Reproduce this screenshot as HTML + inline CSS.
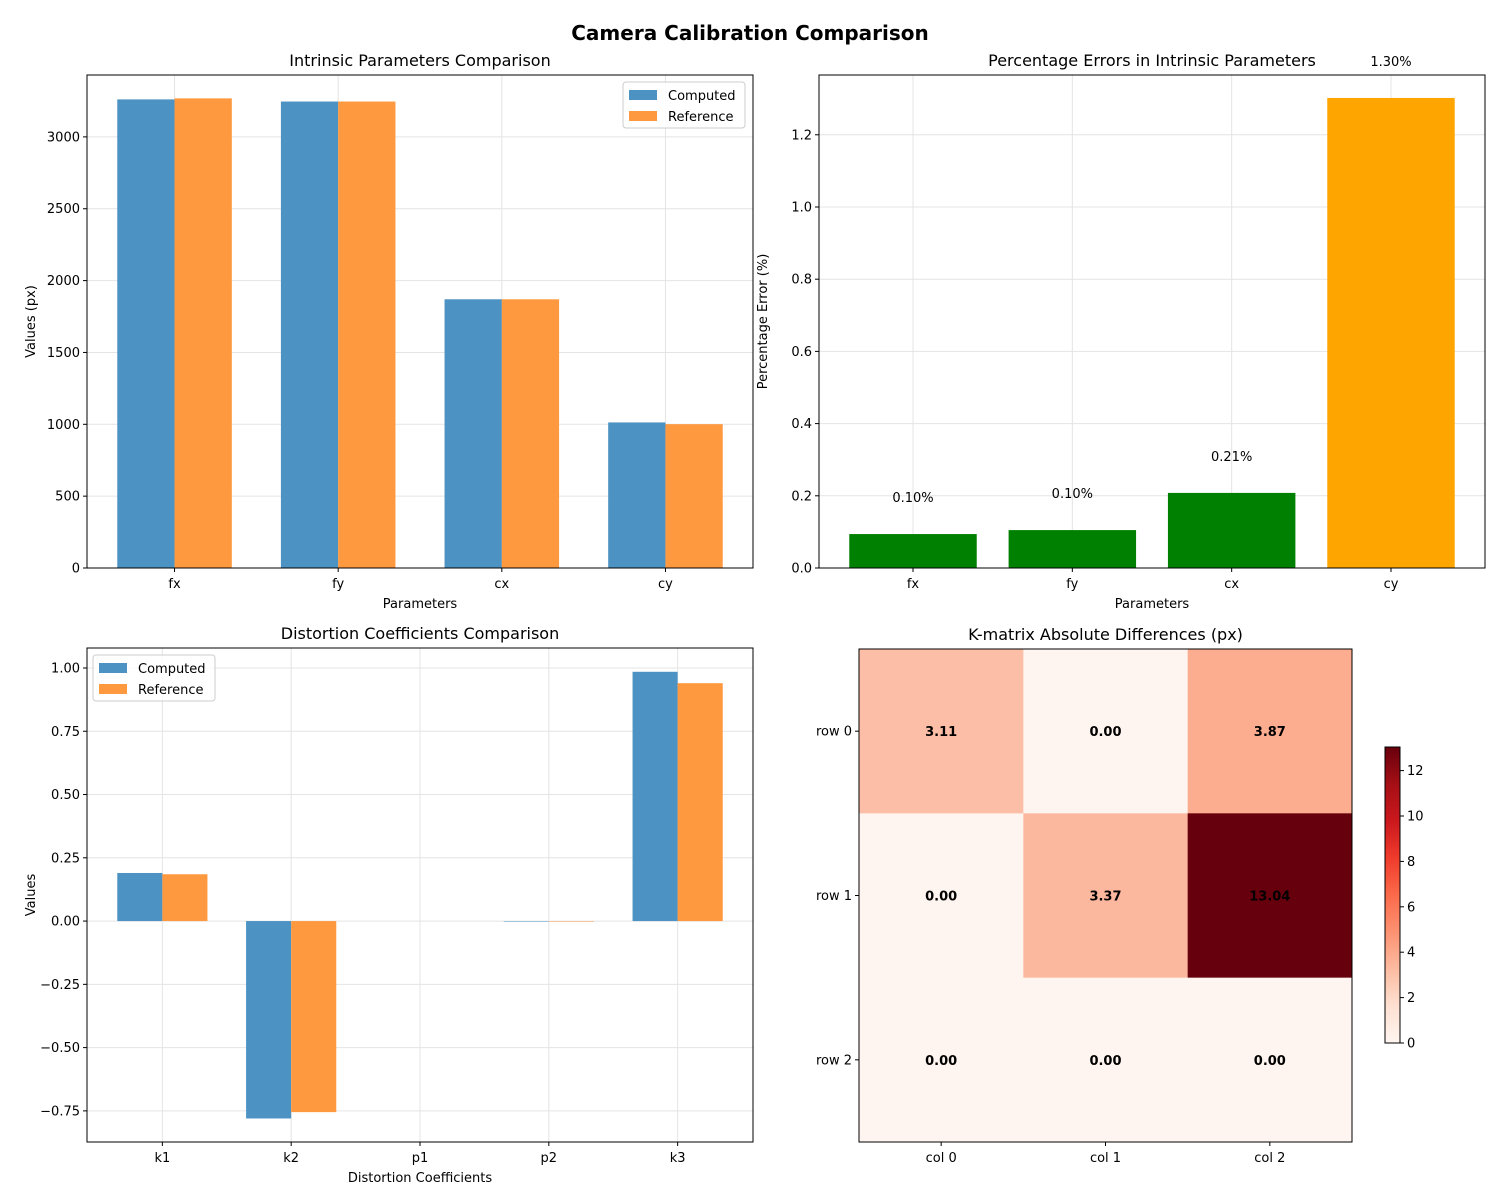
<!DOCTYPE html>
<html><head><meta charset="utf-8">
<style>
body{margin:0;background:#fff;}
svg{display:block;font-family:"DejaVu Sans","Liberation Sans",sans-serif;}
</style></head>
<body>
<svg id="fig" width="1500" height="1200" viewBox="0 0 1500 1200" xmlns="http://www.w3.org/2000/svg">
<rect width="1500" height="1200" fill="#fff"/>
<text x="750" y="40" text-anchor="middle" font-size="20" font-weight="bold">Camera Calibration Comparison</text>
</svg>
<script>
// ---- data ----
const intrCats = ["fx","fy","cx","cy"];
const intrComputed = [3261, 3246, 1870, 1013];
const intrReference = [3268, 3246, 1870, 1001];
const intrTicks = [0,500,1000,1500,2000,2500,3000];
const errCats = ["fx","fy","cx","cy"];
const errValues = [0.094, 0.105, 0.208, 1.302];
const errLabels = ["0.10%","0.10%","0.21%","1.30%"];
const errColors = ["#008000","#008000","#008000","#ffa500"];
const errTicks = [0,0.2,0.4,0.6,0.8,1.0,1.2];
const distCats = ["k1","k2","p1","p2","k3"];
const distComputed = [0.19, -0.78, 0.0, -0.001, 0.985];
const distReference = [0.185, -0.755, 0.0, -0.001, 0.94];
const distTicks = [-0.75,-0.5,-0.25,0,0.25,0.5,0.75,1.0];
const kRows = ["row 0","row 1","row 2"];
const kCols = ["col 0","col 1","col 2"];
const kDiff = [[3.11,0.00,3.87],[0.00,3.37,13.04],[0.00,0.00,0.00]];
const cbTicks = [0,2,4,6,8,10,12];

const NS="http://www.w3.org/2000/svg";
const svg=document.getElementById('fig');
function el(tag,attrs,parent,text){const e=document.createElementNS(NS,tag);for(const k in attrs)e.setAttribute(k,attrs[k]);if(text!==undefined)e.textContent=text;(parent||svg).appendChild(e);return e;}

function makeAxes(name,L,R,T,B,ymin,ymax,nCats,xpad){
  const g=el('g',{});
  
  
  const y=v=>B-(v-ymin)/(ymax-ymin)*(B-T);
  const x=i=>L+(i-xpad.min)/(xpad.max-xpad.min)*(R-L);
  return {g,x,y,L,R,T,B};
}
function grid(ax,cats,ticks,fmt){
  cats.forEach((c,i)=>{const l=el('line',{x1:ax.x(i),x2:ax.x(i),y1:ax.T,y2:ax.B,stroke:'#e4e4e4','stroke-width':1},ax.g);});
  ticks.forEach(t=>{const l=el('line',{x1:ax.L,x2:ax.R,y1:ax.y(t),y2:ax.y(t),stroke:'#e4e4e4','stroke-width':1},ax.g);});
}
function frame(ax,cats,ticks,fmt,title,xl,yl){
  const r=el('rect',{x:ax.L,y:ax.T,width:ax.R-ax.L,height:ax.B-ax.T,fill:'none',stroke:'#000','stroke-width':1},ax.g);
  
  cats.forEach((c,i)=>{el('line',{x1:ax.x(i),x2:ax.x(i),y1:ax.B,y2:ax.B+4,stroke:'#000'},ax.g);
    const t=el('text',{x:ax.x(i),y:ax.B+20,'text-anchor':'middle','font-size':13},ax.g,c);});
  ticks.forEach(v=>{el('line',{x1:ax.L-4,x2:ax.L,y1:ax.y(v),y2:ax.y(v),stroke:'#000'},ax.g);
    const t=el('text',{x:ax.L-7,y:ax.y(v)+4.5,'text-anchor':'end','font-size':13},ax.g,fmt(v));});
  const tt=el('text',{x:(ax.L+ax.R)/2,y:ax.T-9,'text-anchor':'middle','font-size':16},ax.g,title);
  const xt=el('text',{x:(ax.L+ax.R)/2,y:ax.B+40,'text-anchor':'middle','font-size':13},ax.g,xl);
  const cy=(ax.T+ax.B)/2, cx=ax.L-(fmt(ticks[ticks.length-1]).length>4?58:52);
  const yt=el('text',{x:cx,y:cy,'text-anchor':'middle','font-size':13,transform:`rotate(-90 ${cx} ${cy})`},ax.g,yl);
}
function legend(ax,x0,y0){
  const lg=el('g',{},ax.g);
  el('rect',{x:x0,y:y0,width:122,height:46,rx:3,fill:'#fff',stroke:'#ccc','fill-opacity':0.85},lg);
  [["Computed","#4c92c3"],["Reference","#ff993f"]].forEach((s,i)=>{
    const e=el('g',{},lg);
    el('rect',{x:x0+6,y:y0+8+i*21,width:28,height:10,fill:s[1]},e);
    el('text',{x:x0+45,y:y0+18+i*21,'font-size':13},e,s[0]);
  });
}
function pairBars(ax,comp,ref,w){
  comp.forEach((v,i)=>{
    const y0=ax.y(0),y1=ax.y(v);
    const h=v===0?0:Math.max(Math.abs(y1-y0),0.5);
    const b=el('rect',{x:ax.x(i)-w,y:Math.min(y0,y1),width:w,height:h,fill:'#4c92c3'},ax.g);
    
  });
  ref.forEach((v,i)=>{
    const y0=ax.y(0),y1=ax.y(v);
    const h=v===0?0:Math.max(Math.abs(y1-y0),0.5);
    const b=el('rect',{x:ax.x(i),y:Math.min(y0,y1),width:w,height:h,fill:'#ff993f'},ax.g);
    
  });
}

// Panel 1
{const ax=makeAxes('intrinsic-panel',87,753,75,568,0,3430.7,4,{min:-0.535,max:3.535});
 grid(ax,intrCats,intrTicks);
 const w=(ax.x(1)-ax.x(0))*0.35;
 pairBars(ax,intrComputed,intrReference,w);
 frame(ax,intrCats,intrTicks,v=>String(v),'Intrinsic Parameters Comparison','Parameters','Values (px)');
 legend(ax,623,82);}

// Panel 2
{const ax=makeAxes('percentage-error-panel',819,1485,75,568,0,1.3656,4,{min:-0.59,max:3.59});
 grid(ax,errCats,errTicks);
 const w=(ax.x(1)-ax.x(0))*0.8;
 errValues.forEach((v,i)=>{
   const b=el('rect',{x:ax.x(i)-w/2,y:ax.y(v),width:w,height:ax.y(0)-ax.y(v),fill:errColors[i]},ax.g);
   
   const t=el('text',{x:ax.x(i),y:ax.y(v+0.1)+4,'text-anchor':'middle','font-size':13},ax.g,errLabels[i]);
   
 });
 frame(ax,errCats,errTicks,v=>v.toFixed(1),'Percentage Errors in Intrinsic Parameters','Parameters','Percentage Error (%)');}

// Panel 3
{const ax=makeAxes('distortion-panel',87,753,648,1142,-0.873,1.079,5,{min:-0.585,max:4.585});
 grid(ax,distCats,distTicks);
 const w=(ax.x(1)-ax.x(0))*0.35;
 pairBars(ax,distComputed,distReference,w);
 frame(ax,distCats,distTicks,v=>(v<0?'\u2212':'')+Math.abs(v).toFixed(2),'Distortion Coefficients Comparison','Distortion Coefficients','Values');
 legend(ax,93,655);}

// Panel 4 heatmap
{const g=el('g',{});
 const L=859,R=1352,T=649,B=1142,cw=(R-L)/3,ch=(B-T)/3;
 const vmax=Math.max(...kDiff.flat());
 const stops=[[255,245,240],[254,224,210],[252,187,161],[252,146,114],[251,106,74],[239,59,44],[203,24,29],[165,15,21],[103,0,13]];
 function reds(t){t=Math.max(0,Math.min(1,t))*(stops.length-1);const i=Math.min(Math.floor(t),stops.length-2),f=t-i;const a=stops[i],b=stops[i+1];return `rgb(${a.map((v,k)=>Math.round(v+(b[k]-v)*f)).join(',')})`;}
 kDiff.forEach((row,r)=>row.forEach((v,c)=>{
   const cell=el('rect',{x:L+c*cw,y:T+r*ch,width:cw+0.5,height:ch+0.5,fill:reds(v/vmax)},g);
   
   const t=el('text',{x:L+c*cw+cw/2,y:T+r*ch+ch/2+5,'text-anchor':'middle','font-size':13,'font-weight':'bold'},g,v.toFixed(2));
   
 }));
 el('rect',{x:L,y:T,width:R-L,height:B-T,fill:'none',stroke:'#000'},g);
 kCols.forEach((c,i)=>{const x=L+i*cw+cw/2;el('line',{x1:x,x2:x,y1:B,y2:B+4,stroke:'#000'},g);
   const t=el('text',{x:x,y:B+20,'text-anchor':'middle','font-size':13},g,c);});
 kRows.forEach((c,i)=>{const y=T+i*ch+ch/2;el('line',{x1:L-4,x2:L,y1:y,y2:y,stroke:'#000'},g);
   const t=el('text',{x:L-7,y:y+4.5,'text-anchor':'end','font-size':13},g,c);});
 const tt=el('text',{x:(L+R)/2,y:T-9,'text-anchor':'middle','font-size':16},g,'K-matrix Absolute Differences (px)');
 
 // colorbar
 const cb=el('g',{},g);
 const cL=1385,cR=1400,cT=747,cB=1043;
 const defs=el('defs',{},cb);const lg=el('linearGradient',{id:'redsg',x1:0,y1:1,x2:0,y2:0},defs);
 stops.forEach((s,i)=>el('stop',{offset:i/(stops.length-1),'stop-color':`rgb(${s.join(',')})`},lg));
 el('rect',{x:cL,y:cT,width:cR-cL,height:cB-cT,fill:'url(#redsg)',stroke:'#000'},cb);
 cbTicks.forEach(v=>{const y=cB-v/vmax*(cB-cT);el('line',{x1:cR,x2:cR+4,y1:y,y2:y,stroke:'#000'},cb);
   const t=el('text',{x:cR+7,y:y+4.5,'font-size':13},cb,String(v));});
}
</script>
</body></html>
